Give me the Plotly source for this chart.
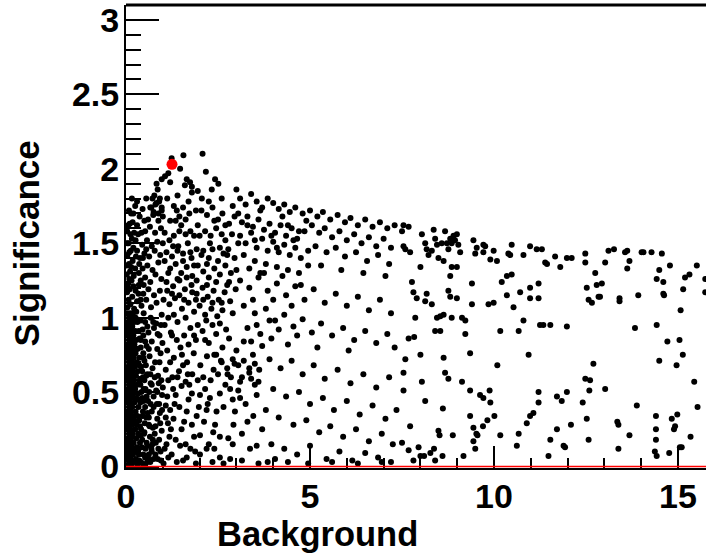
import plotly.graph_objects as go

# ---- data: (Background, Significance) ----
core_pts = [
    (0.04,0.01),(0.15,0.01),(0.31,0.01),(0.52,0.01),(0.09,0.03),(0.22,0.03),(0.40,0.03),
    (0.02,0.05),(0.13,0.05),(0.27,0.05),(0.61,0.05),(0.07,0.08),(0.19,0.08),(0.35,0.08),(0.47,0.08),
    (0.03,0.10),(0.11,0.10),(0.24,0.10),(0.70,0.10),(0.06,0.13),(0.17,0.13),(0.30,0.13),(0.43,0.13),
    (0.02,0.16),(0.10,0.16),(0.21,0.16),(0.38,0.16),(0.56,0.16),(0.05,0.19),(0.14,0.19),(0.28,0.19),
    (0.08,0.22),(0.18,0.22),(0.33,0.22),(0.49,0.22),(0.03,0.25),(0.12,0.25),(0.25,0.25),(0.41,0.25),
    (0.06,0.28),(0.16,0.28),(0.29,0.28),(0.62,0.28),(0.02,0.31),(0.10,0.31),(0.22,0.31),(0.36,0.31),
    (0.07,0.34),(0.19,0.34),(0.31,0.34),(0.45,0.34),(0.04,0.37),(0.13,0.37),(0.26,0.37),
    (0.08,0.40),(0.17,0.40),(0.34,0.40),(0.52,0.40),(0.03,0.43),(0.11,0.43),(0.23,0.43),(0.39,0.43),
    (0.06,0.46),(0.15,0.46),(0.28,0.46),(0.44,0.46),(0.02,0.49),(0.09,0.49),(0.20,0.49),(0.33,0.49),
    (0.05,0.52),(0.14,0.52),(0.25,0.52),(0.48,0.52),(0.08,0.55),(0.18,0.55),(0.30,0.55),
    (0.03,0.58),(0.12,0.58),(0.22,0.58),(0.37,0.58),(0.06,0.61),(0.16,0.61),(0.27,0.61),(0.55,0.61),
    (0.02,0.64),(0.10,0.64),(0.19,0.64),(0.32,0.64),(0.05,0.67),(0.14,0.67),(0.24,0.67),(0.41,0.67),
    (0.08,0.70),(0.17,0.70),(0.29,0.70),(0.03,0.73),(0.11,0.73),(0.21,0.73),(0.36,0.73),
    (0.06,0.76),(0.15,0.76),(0.26,0.76),(0.47,0.76),(0.02,0.79),(0.09,0.79),(0.18,0.79),(0.31,0.79),
    (0.05,0.82),(0.13,0.82),(0.23,0.82),(0.08,0.85),(0.16,0.85),(0.28,0.85),(0.40,0.85),
    (0.03,0.88),(0.11,0.88),(0.20,0.88),(0.06,0.91),(0.14,0.91),(0.25,0.91),(0.35,0.91),
    (0.02,0.94),(0.09,0.94),(0.17,0.94),(0.05,0.97),(0.12,0.97),(0.22,0.97),(0.31,0.97),
    (0.08,1.00),(0.15,1.00),(0.26,1.00),(0.03,1.03),(0.11,1.03),(0.19,1.03),
    (0.36,0.04),(0.45,0.02),(0.58,0.03),(0.33,0.11),(0.44,0.18),(0.53,0.12),(0.65,0.20),(0.40,0.21),
    (0.51,0.29),(0.38,0.27),(0.46,0.37),(0.59,0.36),(0.35,0.45),(0.42,0.50),(0.56,0.47),(0.39,0.55),
    (0.50,0.58),(0.44,0.64),(0.36,0.68),(0.54,0.68),(0.47,0.73),(0.40,0.80),(0.52,0.84),(0.37,0.86),
    (0.45,0.92),(0.58,0.94),(0.40,0.98),(0.48,1.03),(0.62,0.08),(0.69,0.12),(0.75,0.05),(0.63,0.50),
    (0.62,0.33),(0.67,0.42),(0.66,0.62),(0.62,0.79),(0.73,0.26),(0.78,0.60),(0.84,0.42),(0.81,0.16),
    (0.94,0.10),(0.89,0.56),(0.91,0.70),(0.86,0.89),(0.98,0.48),(0.99,0.83),(0.74,0.97),(0.95,0.95),
]

left_upper_pts = [
    (0.04,1.07),(0.12,1.09),(0.22,1.06),(0.07,1.12),(0.17,1.14),(0.30,1.11),(0.03,1.17),(0.10,1.19),
    (0.26,1.18),(0.06,1.23),(0.15,1.25),(0.35,1.22),(0.02,1.29),(0.11,1.31),(0.21,1.28),(0.08,1.36),
    (0.18,1.38),(0.04,1.42),(0.13,1.45),(0.27,1.41),(0.07,1.50),(0.16,1.53),(0.03,1.58),(0.22,1.57),
    (0.10,1.63),(0.30,1.62),(0.14,1.70),(0.37,1.68),(0.25,1.75),(0.45,1.73),
    (0.05,1.20),(0.20,1.21),(0.09,1.26),(0.25,1.33),(0.14,1.34),(0.02,1.35),(0.30,1.45),(0.09,1.44),
    (0.20,1.47),(0.03,1.50),(0.12,1.56),(0.26,1.52),(0.06,1.62),(0.18,1.64),(0.33,1.56),(0.20,1.70),
    (0.08,1.72),(0.30,1.78),(0.16,1.80),(0.35,1.30),(0.28,1.04),(0.34,1.16),
    (0.40,1.12),(0.48,1.22),(0.36,1.36),(0.46,1.40),(0.55,1.46),(0.42,1.57),(0.50,1.65),(0.55,1.80),
    (0.42,1.08),(0.55,1.12),(0.68,1.07),(0.83,1.10),(0.47,1.16),(0.61,1.19),(0.76,1.15),(0.92,1.18),
    (0.40,1.25),(0.52,1.27),(0.66,1.24),(0.80,1.29),(0.96,1.26),(0.45,1.33),(0.58,1.35),(0.72,1.32),
    (0.88,1.37),(0.38,1.40),(0.50,1.43),(0.63,1.41),(0.78,1.45),(0.93,1.42),(0.44,1.49),(0.57,1.52),
    (0.70,1.48),(0.85,1.51),(0.52,1.58),(0.65,1.61),(0.79,1.57),(0.95,1.60),(0.60,1.66),(0.74,1.69),
    (0.88,1.65),(0.69,1.74),(0.83,1.77),(0.97,1.72),(0.77,1.82),(0.92,1.80),(0.86,1.86),
]

ridge_pts = [
    (1.24,2.07),(1.56,2.09),(2.08,2.10),(1.47,2.00),(1.15,1.97),(1.06,1.95),(0.97,1.93),(0.83,1.90),
    (1.20,1.91),(2.17,1.98),(1.65,1.93),(1.74,1.91),(1.60,1.89),(1.79,1.88),(2.42,1.93),(2.51,1.90),
    (2.33,1.86),(1.79,1.84),(2.06,1.80),(3.00,1.86),
    (0.72,1.80),(0.80,1.76),(0.90,1.78),(0.97,1.74),(0.75,1.71),(0.88,1.70),(1.00,1.68),(0.66,1.74),
    (1.30,1.75),(1.38,1.72),(1.45,1.68),(1.55,1.74),(1.62,1.66),(1.35,1.65),(1.72,1.70),(1.50,1.62),
    (2.05,1.72),(2.20,1.69),(2.35,1.74),(2.50,1.66),(2.62,1.70),(2.80,1.63),(2.95,1.68),(2.15,1.58),
    (2.30,1.55),(2.45,1.60),(2.70,1.52),(2.88,1.56),(3.05,1.50),(2.10,1.45),(2.55,1.47),(2.75,1.42),
    (2.25,1.40),(1.05,1.57),(1.18,1.52),(1.30,1.55),(1.42,1.48),(1.10,1.44),(1.25,1.41),(1.55,1.43),
    (1.68,1.50),(1.85,1.55),(1.92,1.46),(1.78,1.40),(1.00,1.50),
    (1.95,1.62),(1.75,1.58),(2.40,1.65),(2.70,1.62),(2.90,1.75),(2.60,1.80),(2.25,1.78),(1.90,1.72),
    (1.28,1.48),(1.62,1.56),(1.45,1.58),(1.20,1.65),(1.12,1.80),(1.40,1.82),(1.70,1.78),(1.95,1.85),
    (2.00,1.55),
]

band_pts = [
    (3.10,1.80),(3.25,1.76),(3.40,1.83),(3.55,1.78),(3.70,1.74),(3.85,1.80),(4.00,1.77),(4.15,1.73),
    (4.30,1.76),(4.45,1.71),(4.60,1.74),(4.80,1.70),(5.00,1.72),(5.20,1.68),(5.35,1.71),(5.55,1.66),
    (5.75,1.69),(5.95,1.64),(6.10,1.67),(6.30,1.62),(6.50,1.66),(6.70,1.61),(6.90,1.64),(7.10,1.60),
    (7.30,1.62),
    (3.05,1.70),(3.15,1.64),(3.30,1.68),(3.45,1.61),(3.60,1.66),(3.75,1.59),(3.90,1.63),(4.05,1.57),
    (4.20,1.62),(4.35,1.55),(4.50,1.60),(4.65,1.53),(4.85,1.58),(3.10,1.55),(3.25,1.50),(3.40,1.57),
    (3.55,1.47),(3.70,1.53),(3.85,1.45),(4.00,1.51),(4.15,1.44),(4.30,1.49),(4.45,1.42),(4.60,1.47),
    (4.75,1.40),(4.95,1.45),(3.20,1.42),(3.50,1.38),(3.80,1.36),(4.10,1.34),(4.40,1.32),(4.70,1.30),
    (3.35,1.33),(3.65,1.30),
    (3.30,1.62),(3.65,1.72),(3.95,1.55),(4.25,1.68),(4.55,1.52),(4.90,1.65),(3.50,1.52),(4.10,1.47),
    (4.40,1.62),(4.70,1.58),
    (5.05,1.62),(5.25,1.57),(5.40,1.60),(5.60,1.54),(5.80,1.58),(6.00,1.52),(6.20,1.56),(6.40,1.50),
    (6.60,1.54),(6.80,1.48),(7.00,1.53),(7.20,1.47),(5.15,1.48),(5.45,1.44),(5.70,1.47),(5.95,1.41),
    (6.25,1.44),(6.55,1.38),(6.85,1.42),(7.15,1.36),(5.30,1.35),(5.85,1.32),(6.45,1.30),(7.05,1.28),
]

mid_pts = [
    (1.05,1.38),(1.20,1.33),(1.35,1.36),(1.50,1.30),(1.65,1.34),(1.80,1.28),(1.95,1.35),(2.10,1.31),
    (2.25,1.27),(2.40,1.33),(2.55,1.29),(2.70,1.35),(2.85,1.30),(1.10,1.24),(1.28,1.21),(1.45,1.25),
    (1.60,1.19),(1.78,1.22),(1.92,1.16),(2.08,1.20),(2.22,1.14),(2.38,1.18),(2.52,1.12),(2.68,1.17),
    (2.83,1.11),(2.98,1.19),(1.02,1.12),(1.18,1.09),(1.33,1.13),(1.52,1.06),(1.70,1.10),(1.85,1.04),
    (2.00,1.08),(2.15,1.02),(2.32,1.06),(2.48,1.01),(2.62,1.05),(2.90,1.03),(1.40,1.45),(1.75,1.44),
    (2.05,1.42),(2.35,1.46),(2.65,1.43),(2.95,1.40),(2.80,1.24),
    (1.15,1.00),(1.30,1.02),(1.62,1.00),(1.90,1.12),(2.10,1.12),(2.45,1.24),(2.75,1.22),(3.00,1.32),
    (1.25,1.16),(1.45,1.15),(1.65,1.27),(1.92,1.25),(2.20,1.36),(2.50,1.38),(2.78,1.46),(1.15,1.30),
    (1.55,1.38),(1.85,1.35),(2.28,1.50),(2.60,1.56),
    (1.12,1.18),(1.40,1.26),(1.58,1.12),(1.80,1.17),(2.20,1.22),(2.35,1.10),(2.18,0.98),(2.60,1.10),
    (2.72,0.92),
    (1.05,0.95),(1.22,0.90),(1.40,0.97),(1.58,0.88),(1.75,0.93),(1.90,0.85),(2.08,0.91),(2.25,0.83),
    (2.45,0.89),(2.62,0.80),(2.80,0.86),(3.00,0.78),(3.20,0.84),(3.45,0.75),(3.70,0.81),(1.12,0.78),
    (1.30,0.73),(1.48,0.80),(1.66,0.70),(1.84,0.76),(2.02,0.68),(2.20,0.74),(2.38,0.65),(2.58,0.71),
    (2.76,0.62),(2.95,0.69),(3.15,0.60),(3.35,0.66),(3.60,0.57),(1.08,0.65),(1.26,0.60),(1.44,0.64),
    (1.62,0.57),(1.80,0.62),(2.30,0.58),(2.70,0.55),(3.25,0.42),(3.55,0.48),(3.80,0.38),(3.70,0.25),
    (3.95,0.15),(3.30,0.30),
    (2.60,0.70),(2.75,0.66),(2.90,0.72),(3.05,0.68),(3.20,0.71),(3.35,0.63),(3.50,0.69),(3.62,0.65),
    (2.85,0.60),(3.10,0.57),(3.40,0.59),
    (1.15,0.58),(1.35,0.48),(1.55,0.68),(1.72,0.55),(1.95,0.58),(2.15,0.52),(2.45,0.75),(2.50,0.62),
    (1.20,0.70),(1.38,0.85),(1.52,0.75),(1.70,0.82),(1.95,0.95),(2.15,0.85),(2.35,0.95),(2.55,0.96),
    (1.40,0.60),(1.68,0.62),(1.25,0.88),(1.85,0.88),(2.40,0.75),(2.10,0.60),(3.50,0.55),
]

low_left_pts = [
    (0.52,0.06),(0.66,0.03),(0.80,0.08),(0.95,0.04),(0.58,0.14),(0.73,0.18),(0.88,0.12),(0.50,0.23),
    (0.64,0.27),(0.78,0.22),(0.93,0.29),(0.55,0.33),(0.70,0.37),(0.85,0.32),(0.98,0.38),(0.60,0.44),
    (0.75,0.47),(0.90,0.42),(0.53,0.52),(0.67,0.56),(0.82,0.51),(0.96,0.58),(0.58,0.62),(0.72,0.66),
    (0.87,0.61),(0.50,0.71),(0.64,0.74),(0.79,0.70),(0.94,0.76),(0.56,0.81),(0.70,0.84),(0.85,0.79),
    (0.61,0.90),(0.76,0.93),(0.91,0.88),(0.52,0.97),(0.67,1.00),(0.82,0.96),(0.97,1.02),(0.48,0.44),
    (0.47,0.88),(0.46,0.60),
    (1.28,0.52),(1.51,0.54),(1.79,0.49),(2.01,0.48),(2.28,0.46),(2.55,0.49),(2.83,0.52),(3.05,0.51),
    (3.10,0.46),(2.96,0.37),(2.46,0.37),(2.19,0.38),(1.92,0.34),(1.65,0.37),(1.29,0.32),(1.51,0.25),
    (1.79,0.28),(2.01,0.21),(2.37,0.23),(2.55,0.20),(2.78,0.19),(2.92,0.28),(3.46,0.34),(3.37,0.12),
    (3.55,0.14),(1.47,0.14),(1.24,0.08),(1.65,0.06),(2.01,0.08),(2.19,0.12),(2.55,0.06),(2.83,0.05),
    (1.38,0.03),
    (0.70,0.55),(0.85,0.50),(1.00,0.53),(1.12,0.47),(0.75,0.40),(0.92,0.36),(1.08,0.41),(1.20,0.38),
    (0.80,0.27),(0.97,0.24),(1.14,0.29),(0.72,0.15),(0.90,0.18),(1.05,0.12),(1.18,0.20),(0.86,0.05),
    (1.02,0.02),(1.15,0.06),
    (1.10,0.15),(1.22,0.25),(1.35,0.18),(1.45,0.40),(1.58,0.30),(1.70,0.45),(1.85,0.20),(1.98,0.40),
    (2.12,0.30),(2.25,0.15),(2.42,0.28),(2.65,0.40),(2.90,0.15),
    (1.08,0.33),(1.32,0.42),(1.62,0.15),(1.88,0.10),(2.22,0.42),(2.40,0.12),(1.75,0.12),(2.90,0.45),
    (3.15,0.22),
]

mid_right_pts = [
    (3.10,1.25),(3.35,1.20),(3.60,1.27),(3.85,1.18),(4.10,1.23),(4.35,1.15),(4.60,1.21),(4.85,1.12),
    (5.10,1.19),(5.40,1.10),(5.70,1.16),(6.00,1.08),(6.30,1.14),(6.60,1.05),(6.90,1.12),(7.20,1.03),
    (3.20,1.08),(3.50,1.03),(3.80,1.06),(4.05,0.98),(4.30,1.02),(4.55,0.94),(4.80,0.99),(5.05,0.90),
    (5.30,0.96),(5.60,0.88),(5.90,0.93),(6.20,0.85),(6.50,0.91),(6.80,0.83),(7.10,0.89),(3.30,0.93),
    (3.65,0.89),(3.95,0.86),(4.40,0.82),(5.20,0.80),(6.05,0.78),(7.30,0.80),
    (3.45,1.12),(3.75,1.30),(4.00,1.12),(4.25,1.28),(4.50,1.08),(4.75,1.22),(4.95,1.35),(3.55,0.95),
    (4.15,0.92),(4.65,0.88),(3.40,0.84),(3.90,0.98),
]

low_right_pts = [
    (3.90,0.72),(4.20,0.66),(4.50,0.71),(4.80,0.62),(5.10,0.68),(5.40,0.59),(5.75,0.65),(6.10,0.56),
    (6.45,0.62),(6.80,0.53),(7.15,0.60),(4.00,0.52),(4.35,0.47),(4.70,0.50),(5.00,0.42),(5.35,0.46),
    (5.65,0.38),(6.00,0.44),(6.35,0.35),(6.70,0.41),(7.05,0.32),(7.35,0.38),(4.15,0.33),(4.55,0.28),
    (4.90,0.31),(5.25,0.23),(5.55,0.27),(5.90,0.20),(6.25,0.25),(6.60,0.17),(6.95,0.22),(7.25,0.15),
    (4.30,0.12),(4.65,0.08),(5.00,0.14),(5.45,0.05),(5.80,0.10),(6.15,0.04),(6.50,0.09),(6.85,0.06),
    (7.20,0.03),(4.05,0.05),(3.85,0.03),
    (1.55,0.04),(1.90,0.02),(2.35,0.03),(2.65,0.02),(3.15,0.04),(3.60,0.02),(4.40,0.03),(4.95,0.02),
    (5.60,0.03),(6.30,0.02),(6.95,0.03),
]

far_pts = [
    (7.54,1.62),(7.68,1.61),(7.50,1.58),(7.54,1.48),(7.59,1.46),(7.72,1.44),(8.04,1.56),(8.13,1.50),
    (8.17,1.46),(8.22,1.42),(8.31,1.45),(8.36,1.59),(8.40,1.53),(8.45,1.49),(8.49,1.40),(8.58,1.50),
    (8.63,1.38),(8.67,1.58),(8.72,1.50),(8.76,1.46),(8.81,1.53),(8.85,1.50),(8.90,1.55),(8.94,1.52),
    (8.99,1.56),(9.03,1.49),(9.08,1.44),(9.44,1.52),(9.53,1.47),(9.49,1.43),(9.71,1.49),(9.76,1.48),
    (9.71,1.44),(9.90,1.39),(9.99,1.45),(10.08,1.38),(10.39,1.43),(10.44,1.42),(10.48,1.49),(10.80,1.42),
    (10.98,1.48),(11.16,1.46),(11.30,1.46),(11.39,1.37),(11.44,1.36),(11.66,1.41),(11.80,1.34),(11.98,1.40),
    (12.11,1.40),(12.48,1.43),(12.48,1.37),(12.75,1.30),
    (13.11,1.45),(13.26,1.46),(13.56,1.44),(13.62,1.45),(14.01,1.44),(14.06,1.44),(14.28,1.44),(14.56,1.43),
    (13.02,1.37),(13.68,1.38),(13.62,1.33),(14.78,1.35),(14.49,1.32),(15.51,1.35),(15.19,1.27),(15.31,1.29),
    (14.42,1.26),(14.60,1.24),(12.93,1.23),(15.14,1.19),(15.74,1.26),(15.74,1.17),(14.60,1.16),(14.62,1.15),
    (13.92,1.15),(13.41,1.13),(13.41,1.11),(12.88,1.14),(15.07,1.05),(13.83,0.93),(14.42,0.95),(14.71,0.84),
    (15.04,0.85),(15.13,0.75),(14.49,0.71),(14.96,0.68),(15.44,0.57),(13.02,0.52),(13.88,0.41),(15.53,0.40),
    (14.40,0.34),(14.83,0.32),(14.98,0.35),(14.92,0.27),(14.89,0.25),(13.35,0.30),(13.38,0.28),(14.40,0.25),
    (15.34,0.20),(13.68,0.21),(14.40,0.18),(13.38,0.12),(14.37,0.10),(14.42,0.07),(14.76,0.09),(15.05,0.13),
    (15.10,0.13),
    (8.00,1.34),(7.77,1.24),(7.81,1.17),(7.90,1.13),(8.13,1.11),(8.17,1.16),(8.31,1.09),(8.81,1.28),
    (8.76,1.18),(8.81,1.14),(8.99,1.13),(8.85,1.34),(8.99,1.34),(9.40,1.23),(9.40,1.09),(9.85,1.09),
    (9.99,1.10),(10.21,1.24),(10.35,1.15),(10.35,1.28),(10.48,1.29),(10.53,1.07),(10.71,1.17),(10.98,1.20),
    (10.98,1.13),(11.21,1.23),(11.21,1.13),(12.52,1.20),(12.79,1.22),(12.57,1.12),(12.66,1.10),(12.84,1.14),
    (7.86,1.00),(8.45,1.00),(8.54,1.01),(8.63,1.02),(8.85,1.00),(9.13,1.00),(9.22,0.98),(8.40,0.91),
    (8.54,0.91),(9.22,0.89),(7.68,0.86),(7.83,0.87),(10.17,0.91),(10.67,0.91),(10.80,0.98),(11.25,0.95),
    (11.34,0.95),(11.53,0.95),(11.98,0.94),(9.35,0.76),(10.94,0.75),(7.59,0.72),(7.54,0.63),(8.00,0.75),
    (8.63,0.73),(8.67,0.63),(8.76,0.59),(9.13,0.57),(10.09,0.68),(12.70,0.69),(12.48,0.59),(12.61,0.58),
    (12.59,0.51),
    (7.54,0.51),(8.04,0.57),(8.13,0.44),(8.61,0.39),(9.35,0.51),(9.62,0.48),(9.71,0.46),(9.88,0.51),
    (9.90,0.43),(9.35,0.34),(9.82,0.31),(10.01,0.34),(9.44,0.26),(9.52,0.22),(9.55,0.21),(9.70,0.27),
    (9.44,0.17),(9.49,0.12),(10.17,0.21),(10.67,0.22),(10.62,0.14),(10.89,0.29),(10.98,0.34),(11.07,0.36),
    (11.21,0.43),(11.21,0.50),(11.71,0.47),(11.84,0.44),(11.98,0.50),(12.41,0.43),(12.52,0.32),(11.71,0.25),
    (12.09,0.28),(11.53,0.18),(11.89,0.14),(11.93,0.13),(12.57,0.18),(11.48,0.07),(7.72,0.27),(8.49,0.24),
    (8.52,0.21),(8.88,0.21),(7.50,0.16),(7.68,0.11),(7.95,0.13),(8.00,0.07),(8.10,0.07),(8.27,0.09),
    (8.37,0.12),(7.81,0.04),(8.40,0.04),(8.60,0.07),(9.17,0.07),
]

best_bkg = [1.25]
best_sig = [2.03]

x_ticks = [0, 5, 10, 15]
y_ticks = [0, 0.5, 1, 1.5, 2, 2.5, 3]
y_tick_text = ["0", "0.5", "1", "1.5", "2", "2.5", "3"]

all_pts = (core_pts + left_upper_pts + ridge_pts + band_pts + mid_pts +
           low_left_pts + mid_right_pts + low_right_pts + far_pts)
bkg = [p[0] for p in all_pts]
sig = [p[1] for p in all_pts]

FONT = "Liberation Sans"
tick_font = dict(family=FONT, size=34, color="black", weight="bold")

fig = go.Figure()
fig.add_trace(go.Scatter(x=bkg, y=sig, mode="markers",
                         marker=dict(color="black", size=6, line=dict(width=0)),
                         showlegend=False, hoverinfo="skip"))
fig.add_trace(go.Scatter(x=best_bkg, y=best_sig, mode="markers",
                         marker=dict(color="red", size=11, line=dict(width=0)),
                         showlegend=False))

fig.add_shape(type="line", xref="paper", yref="y", x0=0, x1=1, y0=0, y1=0,
              line=dict(color="red", width=1.5), layer="above")
fig.add_shape(type="line", xref="paper", yref="paper", x0=0, x1=1, y0=1, y1=1,
              line=dict(color="black", width=3), layer="above")

fig.update_layout(
    width=706, height=555,
    margin=dict(l=126, r=0, t=5, b=87),
    paper_bgcolor="white", plot_bgcolor="white",
    xaxis=dict(range=[0, 15.76], tickvals=x_ticks, ticks="inside", ticklen=22,
               tickwidth=1.5, tickcolor="black", showline=True, linecolor="black",
               linewidth=2, showgrid=False, zeroline=False, tickfont=tick_font,
               ticklabelstandoff=-3,
               minor=dict(dtick=1, tick0=0, ticks="inside", ticklen=10, tickwidth=1.5,
                          tickcolor="black", showgrid=False)),
    yaxis=dict(range=[-0.01, 3.1], tickvals=y_ticks, ticktext=y_tick_text,
               ticks="inside", ticklen=33, tickwidth=1.5, tickcolor="black",
               showline=True, linecolor="black", linewidth=2, showgrid=False,
               zeroline=False, tickfont=tick_font, ticklabelstandoff=-2,
               minor=dict(dtick=0.1, tick0=0, ticks="inside", ticklen=15, tickwidth=1.5,
                          tickcolor="black", showgrid=False)),
    annotations=[
        dict(text="Background", xref="paper", yref="paper", x=0.330, y=-0.097,
             xanchor="center", yanchor="top", showarrow=False,
             font=dict(family=FONT, size=34.5, color="black", weight="bold")),
        dict(text="Significance", xref="paper", yref="paper", x=-0.17, y=0.486,
             xanchor="center", yanchor="middle", showarrow=False, textangle=-90,
             font=dict(family=FONT, size=35, color="black", weight="bold")),
    ],
)

fig.write_html("out.html", post_script="document.body.style.margin='0';",
               config={"displayModeBar": False})
